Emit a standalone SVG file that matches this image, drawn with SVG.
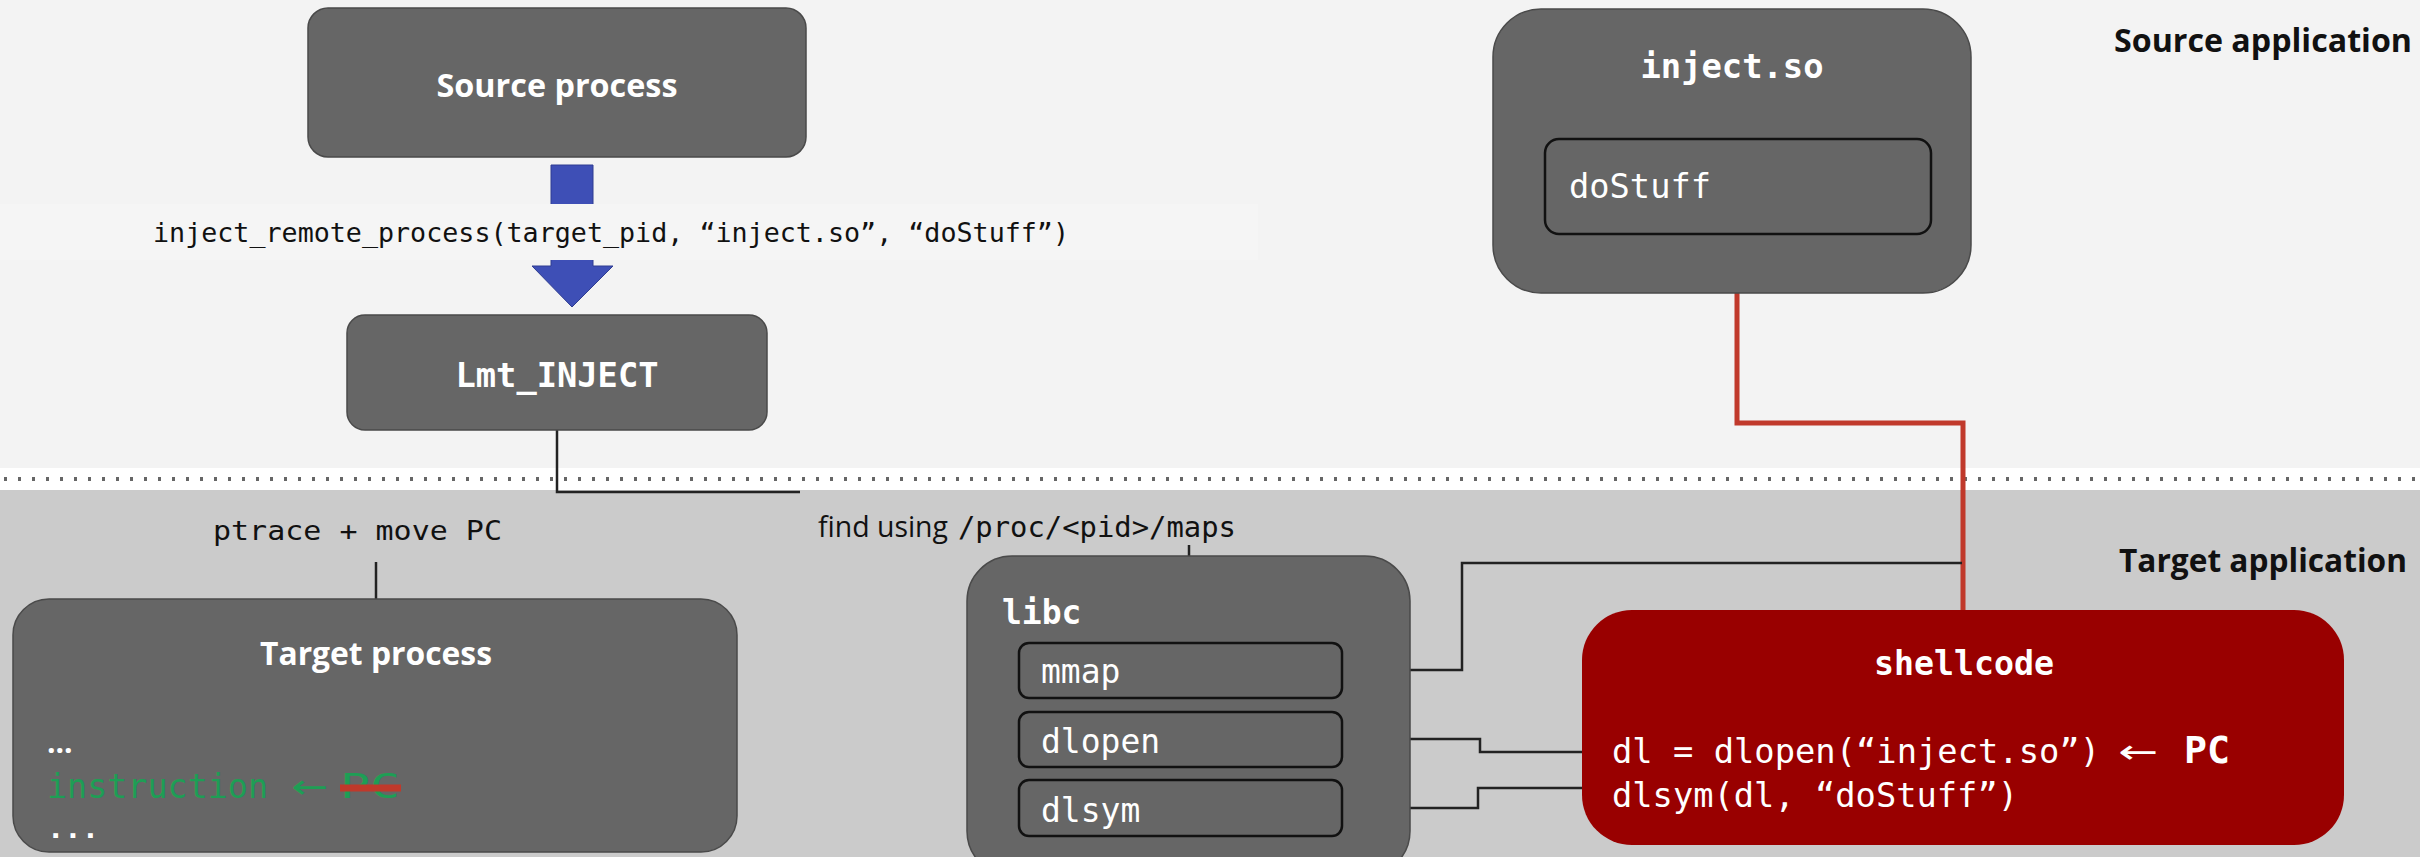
<svg xmlns="http://www.w3.org/2000/svg" width="2420" height="857" viewBox="0 0 2420 857">
<style>
.box{fill:#666666;stroke:#4a4a4a;stroke-width:1.5}
.inner{fill:#666666;stroke:#111;stroke-width:2.5}
.sans{font-family:"Open Sans","Noto Sans",sans-serif;font-weight:bold}
.mono{font-family:"DejaVu Sans Mono","Liberation Mono",monospace}
.arr{font-family:"DejaVu Sans",sans-serif;font-weight:normal}
.w{fill:#ffffff}
.k{fill:#111111}
.conn{fill:none;stroke:#222;stroke-width:2.5}
</style>
<rect x="0" y="0" width="2420" height="468" fill="#f3f3f3"/>
<rect x="0" y="468" width="2420" height="22" fill="#ffffff"/>
<rect x="0" y="490" width="2420" height="367" fill="#cbcbcb"/>
<line x1="4" y1="479" x2="2420" y2="479" stroke="#666" stroke-width="4" stroke-dasharray="3 11"/>

<g id="connectors">
  <path d="M551,165 H593 V266 H613 L572,307 L532,266 H551 Z" fill="#3e4fb6" stroke="#2f3d91" stroke-width="1"/>
  <rect x="0" y="204" width="1258" height="56" fill="#f5f5f5"/>
  <path class="conn" d="M557,430 V492 H800" stroke="#555"/>
  <path class="conn" d="M376,562 V599" stroke="#555" stroke-width="2"/>
  <path class="conn" d="M1189,545 V556" stroke="#555" stroke-width="2"/>
  <path d="M1737,234 V423 H1963 V610" fill="none" stroke="#c0392b" stroke-width="5"/>
  <path class="conn" d="M1342,670 H1462 V563 H1962" stroke="#111" stroke-width="3"/>
  <path class="conn" d="M1342,739 H1480 V752 H1615" stroke="#333"/>
  <path class="conn" d="M1342,808 H1478 V788 H1612" stroke="#333"/>
</g>

<text class="mono k" x="611" y="242" font-size="27" text-anchor="middle" textLength="916" lengthAdjust="spacingAndGlyphs">inject_remote_process(target_pid, “inject.so”, “doStuff”)</text>

<g id="source-process">
  <rect class="box" x="308" y="8" width="498" height="149" rx="20"/>
  <text class="sans w" x="557" y="97" font-size="33" text-anchor="middle" textLength="241" lengthAdjust="spacingAndGlyphs">Source process</text>
</g>

<g id="lmt-inject">
  <rect class="box" x="347" y="315" width="420" height="115" rx="18"/>
  <text class="mono w" x="557" y="387" font-size="33" font-weight="bold" text-anchor="middle" textLength="203" lengthAdjust="spacingAndGlyphs">Lmt_INJECT</text>
</g>

<g id="inject-so">
  <rect class="box" x="1493" y="9" width="478" height="284" rx="48"/>
  <text class="mono w" x="1732" y="78" font-size="33" font-weight="bold" text-anchor="middle" textLength="183" lengthAdjust="spacingAndGlyphs">inject.so</text>
  <g id="dostuff">
    <rect class="inner" x="1545" y="139" width="386" height="95" rx="14"/>
    <text class="mono w" x="1569" y="198" font-size="33" textLength="142" lengthAdjust="spacingAndGlyphs">doStuff</text>
  </g>
</g>

<text class="sans k" x="2412" y="52" font-size="32" text-anchor="end" textLength="298" lengthAdjust="spacingAndGlyphs">Source application</text>
<text class="sans k" x="2407" y="572" font-size="33" text-anchor="end" textLength="288" lengthAdjust="spacingAndGlyphs">Target application</text>

<text class="mono k" x="213" y="540" font-size="27" textLength="289" lengthAdjust="spacingAndGlyphs">ptrace + move PC</text>
<text x="818" y="537" font-size="29" class="k"><tspan font-family="Open Sans, Noto Sans, sans-serif" textLength="130" lengthAdjust="spacingAndGlyphs">find using</tspan><tspan class="mono" x="958" textLength="278" lengthAdjust="spacingAndGlyphs">/proc/&lt;pid&gt;/maps</tspan></text>

<g id="target-process">
  <rect class="box" x="13" y="599" width="724" height="253" rx="36"/>
  <text class="sans w" x="376" y="665" font-size="32" text-anchor="middle" textLength="232" lengthAdjust="spacingAndGlyphs">Target process</text>
  <text class="sans w" x="47" y="753" font-size="30">...</text>
  <text class="mono" x="47" y="798" font-size="33" fill="#1e9e55"><tspan textLength="221" lengthAdjust="spacingAndGlyphs">instruction</tspan><tspan class="arr" x="291" font-size="33" textLength="37" lengthAdjust="spacingAndGlyphs">←</tspan><tspan x="340" textLength="60" lengthAdjust="spacingAndGlyphs">PC</tspan></text>
  <line x1="340" y1="788" x2="401" y2="788" stroke="#c0392b" stroke-width="7"/>
  <text class="mono w" x="47" y="838" font-size="27" font-weight="bold" textLength="52" lengthAdjust="spacingAndGlyphs">...</text>
</g>

<g id="libc">
  <rect class="box" x="967" y="556" width="443" height="320" rx="45"/>
  <text class="mono w" x="1002" y="624" font-size="33" font-weight="bold">libc</text>
  <g id="mmap">
    <rect class="inner" x="1019" y="643" width="323" height="55" rx="10"/>
    <text class="mono w" x="1041" y="683" font-size="33">mmap</text>
  </g>
  <g id="dlopen">
    <rect class="inner" x="1019" y="712" width="323" height="55" rx="10"/>
    <text class="mono w" x="1041" y="753" font-size="33">dlopen</text>
  </g>
  <g id="dlsym">
    <rect class="inner" x="1019" y="780" width="323" height="56" rx="10"/>
    <text class="mono w" x="1041" y="822" font-size="33">dlsym</text>
  </g>
</g>

<g id="shellcode">
  <rect x="1582" y="610" width="762" height="235" rx="50" fill="#990000"/>
  <text class="mono w" x="1964" y="675" font-size="33" font-weight="bold" text-anchor="middle" textLength="180" lengthAdjust="spacingAndGlyphs">shellcode</text>
  <text class="mono w" x="1612" y="763" font-size="33"><tspan textLength="488" lengthAdjust="spacingAndGlyphs">dl = dlopen(“inject.so”)</tspan><tspan class="arr" x="2118" font-size="33" textLength="40" lengthAdjust="spacingAndGlyphs">←</tspan><tspan x="2184" font-weight="bold" font-size="37" textLength="46" lengthAdjust="spacingAndGlyphs">PC</tspan></text>
  <text class="mono w" x="1612" y="807" font-size="33" textLength="406" lengthAdjust="spacingAndGlyphs">dlsym(dl, “doStuff”)</text>
</g>
</svg>
